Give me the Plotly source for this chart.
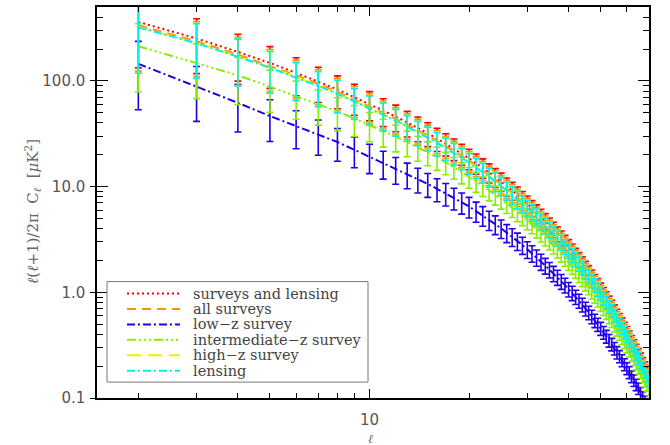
import plotly.graph_objects as go

# multipoles
ell = list(range(2, 71))

# relative (cosmic-variance) error fraction per multipole
rel_err = [0.632, 0.535, 0.471, 0.426, 0.392, 0.365, 0.343, 0.324, 0.309, 0.295,
           0.283, 0.272, 0.263, 0.254, 0.246, 0.239, 0.232, 0.226, 0.221, 0.216,
           0.211, 0.206, 0.202, 0.198, 0.194, 0.191, 0.187, 0.184, 0.181, 0.178,
           0.175, 0.173, 0.170, 0.168, 0.166, 0.163, 0.161, 0.159, 0.157, 0.155,
           0.153, 0.152, 0.150, 0.148, 0.147, 0.145, 0.144, 0.142, 0.141, 0.139,
           0.138, 0.137, 0.135, 0.134, 0.133, 0.132, 0.131, 0.130, 0.129, 0.128,
           0.126, 0.1255, 0.1245, 0.1236, 0.1226, 0.1217, 0.1208, 0.1199, 0.1191]

surveys_and_lensing = [361, 252, 188, 148, 119, 98.5, 83.0, 70.0, 60.5, 52.4,
                       46.0, 40.5, 36.0, 32.0, 28.5, 25.5, 22.9, 20.5, 18.5, 16.7,
                       15.1, 13.6, 12.3, 11.2, 10.1, 9.2, 8.35, 7.6, 6.9, 6.28,
                       5.72, 5.2, 4.74, 4.32, 3.94, 3.59, 3.27, 2.98, 2.72, 2.48,
                       2.26, 2.06, 1.88, 1.71, 1.56, 1.42, 1.29, 1.18, 1.07, 0.975,
                       0.89, 0.81, 0.74, 0.67, 0.61, 0.556, 0.506, 0.461, 0.42, 0.382,
                       0.347, 0.316, 0.287, 0.261, 0.237, 0.215, 0.196, 0.178, 0.162]

all_surveys = [336, 237, 177, 139, 113, 93.6, 78.9, 66.5, 57.5, 49.8,
               43.7, 38.5, 34.2, 30.4, 27.1, 24.2, 21.8, 19.5, 17.6, 15.9,
               14.3, 12.9, 11.7, 10.6, 9.6, 8.74, 7.93, 7.22, 6.56, 5.97,
               5.43, 4.94, 4.50, 4.10, 3.74, 3.41, 3.11, 2.83, 2.58, 2.36,
               2.15, 1.96, 1.79, 1.62, 1.48, 1.35, 1.23, 1.12, 1.02, 0.926,
               0.846, 0.770, 0.703, 0.637, 0.580, 0.528, 0.481, 0.438, 0.399, 0.363,
               0.330, 0.300, 0.273, 0.248, 0.225, 0.204, 0.186, 0.169, 0.154]

low_z = [145, 89.0, 62.0, 46.5, 37.5, 31.2, 26.4, 22.3, 19.2, 16.7,
         14.7, 13.1, 11.8, 10.6, 9.52, 8.62, 7.83, 7.09, 6.48, 5.86,
         5.34, 4.84, 4.40, 4.03, 3.66, 3.35, 3.06, 2.80, 2.55, 2.34,
         2.14, 1.95, 1.79, 1.64, 1.51, 1.39, 1.27, 1.17, 1.07, 0.987,
         0.906, 0.832, 0.765, 0.701, 0.644, 0.590, 0.541, 0.498, 0.455, 0.417,
         0.383, 0.351, 0.323, 0.295, 0.270, 0.248, 0.227, 0.208, 0.191, 0.175,
         0.160, 0.147, 0.134, 0.123, 0.112, 0.102, 0.0933, 0.0851, 0.0778]

intermediate_z = [213, 146, 113, 88.1, 71.4, 60.1, 51.5, 44.1, 38.4, 33.5,
                  29.7, 26.3, 23.6, 21.1, 18.9, 17.0, 15.3, 13.7, 12.4, 11.25,
                  10.2, 9.22, 8.36, 7.64, 6.91, 6.31, 5.74, 5.24, 4.77, 4.35,
                  3.97, 3.62, 3.30, 3.02, 2.76, 2.52, 2.30, 2.10, 1.92, 1.75,
                  1.60, 1.46, 1.33, 1.21, 1.11, 1.01, 0.922, 0.846, 0.769, 0.703,
                  0.643, 0.586, 0.537, 0.487, 0.444, 0.405, 0.369, 0.337, 0.307, 0.280,
                  0.254, 0.232, 0.211, 0.192, 0.175, 0.159, 0.145, 0.132, 0.120]

high_z = [325, 229, 171, 135, 109, 90.6, 76.4, 64.4, 55.7, 48.2,
          42.3, 37.3, 33.1, 29.4, 26.2, 23.5, 21.1, 18.9, 17.0, 15.4,
          13.9, 12.5, 11.3, 10.3, 9.29, 8.46, 7.68, 6.99, 6.35, 5.78,
          5.26, 4.78, 4.36, 3.97, 3.62, 3.30, 3.01, 2.74, 2.50, 2.28,
          2.08, 1.90, 1.73, 1.57, 1.44, 1.31, 1.19, 1.09, 0.984, 0.897,
          0.819, 0.745, 0.681, 0.616, 0.561, 0.512, 0.466, 0.424, 0.386, 0.351,
          0.319, 0.291, 0.264, 0.240, 0.218, 0.198, 0.180, 0.164, 0.149]

lensing = [321, 227, 169, 133, 107, 89.6, 75.5, 63.7, 55.1, 47.7,
           41.9, 36.9, 32.8, 29.1, 25.9, 23.2, 20.8, 18.7, 16.8, 15.2,
           13.7, 12.4, 11.2, 10.2, 9.19, 8.37, 7.60, 6.92, 6.28, 5.71,
           5.21, 4.73, 4.31, 3.93, 3.59, 3.27, 2.98, 2.71, 2.48, 2.26,
           2.06, 1.87, 1.71, 1.56, 1.42, 1.29, 1.17, 1.07, 0.974, 0.887,
           0.810, 0.737, 0.673, 0.610, 0.555, 0.506, 0.460, 0.420, 0.382, 0.348,
           0.316, 0.288, 0.261, 0.238, 0.216, 0.196, 0.178, 0.162, 0.147]

series_names = ["surveys and lensing", "all surveys", "low\u2212z survey",
                "intermediate\u2212z survey", "high\u2212z survey", "lensing"]
series_values = [surveys_and_lensing, all_surveys, low_z, intermediate_z, high_z, lensing]
series_colors = ["#ff0000", "#ff9000", "#2000e8", "#88ee00", "#f0f000", "#00f0f0"]
series_dash = ["2px,3px", "9px,6px", "8px,3px,2px,3px",
               "9px,3px,2px,3px,2px,3px,2px,3px", "14px,7px", "8px,3px,2px,3px"]

W, H = 670, 445
ML, MR, MT, MB = 97, 21, 5, 47
PW, PH = W - ML - MR, H - MT - MB


def px(x):
    return (x - ML) / PW


def py(y):
    return (H - MB - y) / PH


fig = go.Figure()
for name, vals, col, dsh in zip(series_names, series_values, series_colors, series_dash):
    errs = [v * f for v, f in zip(vals, rel_err)]
    fig.add_trace(go.Scatter(
        x=ell, y=vals, mode="lines", name=name, showlegend=False,
        line=dict(color=col, width=2, dash=dsh),
        error_y=dict(type="data", array=errs, visible=True, color=col,
                     thickness=1.6, width=3.5),
    ))
# empty helper trace so the overlaid tick-stub axis is drawn
fig.add_trace(go.Scatter(x=[], y=[], yaxis="y2", showlegend=False, hoverinfo="skip"))

# legend drawn as box + sample lines + texts
shapes = [dict(type="rect", xref="paper", yref="paper",
               x0=px(107), x1=px(368), y0=py(382), y1=py(281),
               line=dict(color="#777777", width=1), fillcolor="white", layer="above")]
annotations = []
row_y = [293, 308.5, 324, 339.5, 355, 370.5]
for name, col, dsh, ry in zip(series_names, series_colors, series_dash, row_y):
    shapes.append(dict(type="line", xref="paper", yref="paper",
                       x0=px(127), x1=px(180), y0=py(ry), y1=py(ry),
                       line=dict(color=col, width=2, dash=dsh), layer="above"))
    annotations.append(dict(text=name, xref="paper", yref="paper",
                            x=px(191), y=py(ry), xanchor="left", yanchor="middle",
                            showarrow=False,
                            font=dict(family="DejaVu Serif", size=14.5, color="#444444")))

annotations += [
    dict(text="<i>\u2113</i>", xref="paper", yref="paper", x=px(370), y=py(439),
         xanchor="center", yanchor="middle", showarrow=False,
         font=dict(family="DejaVu Serif", size=12, color="#666666")),
    dict(text="<i>\u2113</i>(<i>\u2113</i>+1)/2\u03c0  C<sub><i>\u2113</i></sub>  [<i>\u03bc</i>K<sup>2</sup>]",
         xref="paper", yref="paper", x=px(33), y=py(211), textangle=-90,
         xanchor="center", yanchor="middle", showarrow=False,
         font=dict(family="DejaVu Serif", size=15, color="#666666")),
]

tick_font = dict(family="DejaVu Sans", size=15, color="#555555")
fig.update_layout(
    width=W, height=H,
    margin=dict(l=ML, r=MR, t=MT, b=MB),
    paper_bgcolor="white", plot_bgcolor="white",
    showlegend=False,
    shapes=shapes,
    annotations=annotations,
    xaxis=dict(type="log", range=[0.17609, 1.84510],
               showline=True, linecolor="black", linewidth=1.5, mirror="ticks",
               showgrid=False, zeroline=False,
               tickmode="array", tickvals=[10], ticktext=["10"],
               ticks="inside", ticklen=9, tickcolor="black", tickwidth=1.3,
               tickfont=tick_font, ticklabelstandoff=7,
               minor=dict(tickmode="array",
                          tickvals=[2, 3, 4, 5, 6, 7, 8, 9, 20, 30, 40, 50, 60, 70],
                          ticks="inside", ticklen=5, tickcolor="black", tickwidth=1.2,
                          showgrid=False)),
    yaxis=dict(type="log", range=[-1, 2.699],
               showline=True, linecolor="black", linewidth=1.5, mirror="ticks",
               showgrid=False, zeroline=False,
               tickmode="array", tickvals=[0.1, 1, 10, 100],
               ticktext=["0.1", "1.0", "10.0", "100.0"],
               ticks="inside", ticklen=11, tickcolor="black", tickwidth=1.3,
               tickfont=tick_font, ticklabelstandoff=7,
               minor=dict(tickmode="array",
                          tickvals=[0.2, 0.3, 0.4, 0.5, 0.6, 0.7, 0.8, 0.9,
                                    2, 3, 4, 5, 6, 7, 8, 9,
                                    20, 30, 40, 50, 60, 70, 80, 90,
                                    200, 300, 400],
                          ticks="inside", ticklen=6, tickcolor="black", tickwidth=1.2,
                          showgrid=False)),
    yaxis2=dict(type="log", range=[-1, 2.699], overlaying="y", side="left",
                showline=False, showgrid=False, zeroline=False,
                tickmode="array", tickvals=[0.1, 1, 10, 100],
                ticks="outside", ticklen=6, tickcolor="black", tickwidth=1.3,
                showticklabels=False),
)

fig.write_html("out.html")
